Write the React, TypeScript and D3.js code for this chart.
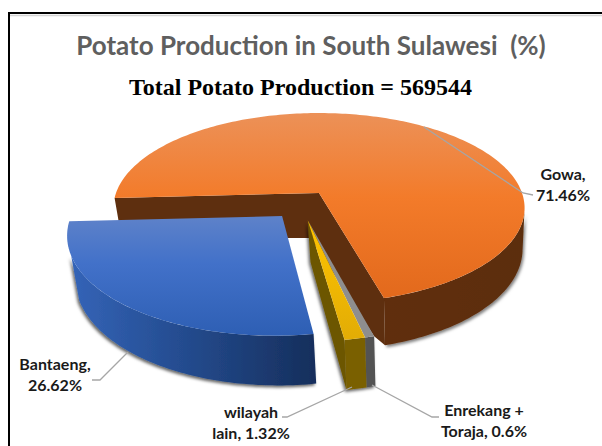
import React from "react";
import * as d3 from "d3";

const categories = ["Gowa", "Enrekang + Toraja", "wilayah lain", "Bantaeng"];
const shares = [71.46, 0.6, 1.32, 26.62];
const chartTitle = "Potato Production in South Sulawesi  (%)";
const totalLine = "Total Potato Production = 569544";

// Exploded offset of every slice, in disc units (across, toward viewer).
const offsets: [number, number][] = [
  [0, 0],
  [-0.053, 0.28],
  [-0.053, 0.28],
  [-0.175, 0.239],
];

// Perspective projection of the pie's disc on to the page.
const CX = 319;
const CY = 193;
const RX = 203;
const RY = 92.6;
const TILT = 0.158;
const DEPTH = 40;
const BASE_SHRINK = 0.022;
const VANISH_X = 432;

const project = (u: number, v: number, h = 0): [number, number] => {
  const s = 1 / (1 - TILT * v);
  const x = CX + RX * u * s;
  return [x + h * BASE_SHRINK * (VANISH_X - x), CY + RY * v * s + h * DEPTH * s];
};

const rimPoints = (a0: number, a1: number, off: [number, number], h: number) => {
  const steps = Math.max(4, Math.ceil(Math.abs(a1 - a0) / 0.02));
  return d3.range(steps + 1).map((i) => {
    const a = a0 + ((a1 - a0) * i) / steps;
    return project(off[0] + Math.sin(a), off[1] - Math.cos(a), h);
  });
};

const poly = d3.line();
const rad = (deg: number) => (deg * Math.PI) / 180;

const pie = d3
  .pie<number>()
  .sort(null)
  .startAngle(rad(-93))
  .endAngle(rad(267));
const arcs = pie(shares);

const rimAt = (i: number, a: number) => [offsets[i][0] + Math.sin(a), offsets[i][1] - Math.cos(a)];

const topFace = (i: number) => {
  const { startAngle, endAngle } = arcs[i];
  return (
    poly([project(offsets[i][0], offsets[i][1]), ...rimPoints(startAngle, endAngle, offsets[i], 0)]) + "Z"
  );
};
const outerWall = (i: number, a0: number, a1: number) =>
  poly([...rimPoints(a0, a1, offsets[i], 0), ...rimPoints(a0, a1, offsets[i], 1).reverse()]) + "Z";
const cutWall = (i: number, a: number) => {
  const o = offsets[i];
  const [ru, rv] = rimAt(i, a);
  return (
    poly([project(o[0], o[1]), project(ru, rv), project(ru, rv, 1), project(o[0], o[1], 1)]) + "Z"
  );
};

const gowa = arcs[0];
const enrekang = arcs[1];
const wilayah = arcs[2];
const bantaeng = arcs[3];

// Both cut faces of the large slice form one wall around its inner corner,
// reaching under the thin slices in front of it.
const [startU, startV] = rimAt(0, gowa.startAngle);
const [endU, endV] = rimAt(0, gowa.endAngle);
const [thinU, thinV] = rimAt(1, enrekang.startAngle);
const gowaCut =
  poly([
    project(startU, startV),
    project(0, 0),
    project(endU, endV),
    project(endU, endV, 1),
    project(thinU, thinV),
    project(-0.055, 0.05, 1),
    project(startU, startV, 1),
  ]) + "Z";

const leaders: [number, number][][] = [
  [[424, 127], [523, 193], [533, 195]],
  [[128, 352], [100, 380], [92, 380]],
  [[352, 387], [287, 417], [282, 417]],
  [[372, 385], [432, 417], [439, 417]],
];

const labelFont = "Lato, sans-serif";
const labels = [
  { x: 563, y: 180, lines: [`${categories[0]},`, `${shares[0]}%`] },
  { x: 55, y: 370, lines: [`${categories[3]},`, `${shares[3]}%`] },
  { x: 251, y: 418, lines: ["wilayah", `lain, ${shares[2]}%`] },
  { x: 484, y: 416, lines: ["Enrekang +", `Toraja, ${shares[1]}%`] },
];

export default function App() {
  return (
    <svg
      width={602}
      height={446}
      style={{ position: "absolute", left: 0, top: 0, background: "#fff" }}
    >
      <defs>
        <linearGradient id="orangeTop" gradientUnits="userSpaceOnUse" x1="0" y1="113" x2="0" y2="300">
          <stop offset="0" stopColor="#ec9158" />
          <stop offset="0.45" stopColor="#f37b2a" />
          <stop offset="1" stopColor="#e2691c" />
        </linearGradient>
        <linearGradient id="brownWall" gradientUnits="userSpaceOnUse" x1="385" y1="0" x2="525" y2="0">
          <stop offset="0" stopColor="#602f0e" />
          <stop offset="1" stopColor="#5c2e0d" />
        </linearGradient>
        <linearGradient id="blueTop" gradientUnits="userSpaceOnUse" x1="0" y1="216" x2="0" y2="335">
          <stop offset="0" stopColor="#5e82c9" />
          <stop offset="0.4" stopColor="#4271c9" />
          <stop offset="1" stopColor="#2e5fb4" />
        </linearGradient>
        <linearGradient id="blueWall" gradientUnits="userSpaceOnUse" x1="70" y1="0" x2="312" y2="0">
          <stop offset="0" stopColor="#3464b8" />
          <stop offset="0.5" stopColor="#234a8c" />
          <stop offset="1" stopColor="#162f5d" />
        </linearGradient>
        <linearGradient id="yellowTop" gradientUnits="userSpaceOnUse" x1="0" y1="220" x2="0" y2="336">
          <stop offset="0" stopColor="#ffc400" />
          <stop offset="1" stopColor="#e3ad05" />
        </linearGradient>
        <filter id="shadowLeft" x="-20%" y="-20%" width="140%" height="140%">
          <feDropShadow dx="-1.5" dy="2" stdDeviation="1.8" floodColor="#000" floodOpacity="0.6" />
        </filter>
        <filter id="shadowRight" x="-20%" y="-20%" width="140%" height="140%">
          <feDropShadow dx="1.5" dy="2" stdDeviation="1.6" floodColor="#000" floodOpacity="0.5" />
        </filter>
      </defs>

      {/* outer frame: heavy top and left rules with a soft line under the top one */}
      <line x1="9" y1="15.5" x2="602" y2="15.5" stroke="#d4d4d4" strokeWidth="1.5" />
      <line x1="8" y1="13" x2="602" y2="13" stroke="#000" strokeWidth="2" />
      <line x1="9" y1="12" x2="9" y2="446" stroke="#000" strokeWidth="2" />

      <text
        x={311}
        y={55}
        textAnchor="middle"
        fontFamily={labelFont}
        fontWeight={700}
        fontSize={26}
        fill="#5f5f5f"
        style={{ whiteSpace: "pre" }}
      >
        {chartTitle}
      </text>
      <text
        x={300.5}
        y={95}
        textAnchor="middle"
        fontFamily="'Liberation Serif', serif"
        fontWeight={700}
        fontSize={24}
        fill="#000"
      >
        {totalLine}
      </text>

      {/* largest slice */}
      <g filter="url(#shadowRight)">
        <path d={outerWall(0, rad(100), gowa.endAngle)} fill="url(#brownWall)" />
      </g>
      <path d={gowaCut} fill="#5e2f0f" />
      <path d={topFace(0)} fill="url(#orangeTop)" />

      {/* two thin exploded slices */}
      <g filter="url(#shadowLeft)">
        <path d={outerWall(1, enrekang.startAngle, enrekang.endAngle)} fill="#525252" />
        <path d={cutWall(2, wilayah.endAngle)} fill="#6c5600" />
        <path d={outerWall(2, wilayah.startAngle, wilayah.endAngle)} fill="#7a6000" />
      </g>
      <path d={topFace(1)} fill="#8e8e8e" />
      <path d={topFace(2)} fill="url(#yellowTop)" />

      {/* exploded left slice */}
      <g filter="url(#shadowLeft)">
        <path d={outerWall(3, bantaeng.startAngle, rad(248))} fill="url(#blueWall)" />
      </g>
      <path d={topFace(3)} fill="url(#blueTop)" />

      {leaders.map((points, i) => (
        <path key={i} d={poly(points) ?? ""} fill="none" stroke="#a6a6a6" strokeWidth={1.3} />
      ))}

      {labels.map((l) => (
        <text
          key={l.lines[0]}
          textAnchor="middle"
          fontFamily={labelFont}
          fontWeight={700}
          fontSize={16}
          fill="#1a1a1a"
        >
          {l.lines.map((t, i) => (
            <tspan key={t} x={l.x} y={l.y + i * 20.7}>
              {t}
            </tspan>
          ))}
        </text>
      ))}
    </svg>
  );
}
